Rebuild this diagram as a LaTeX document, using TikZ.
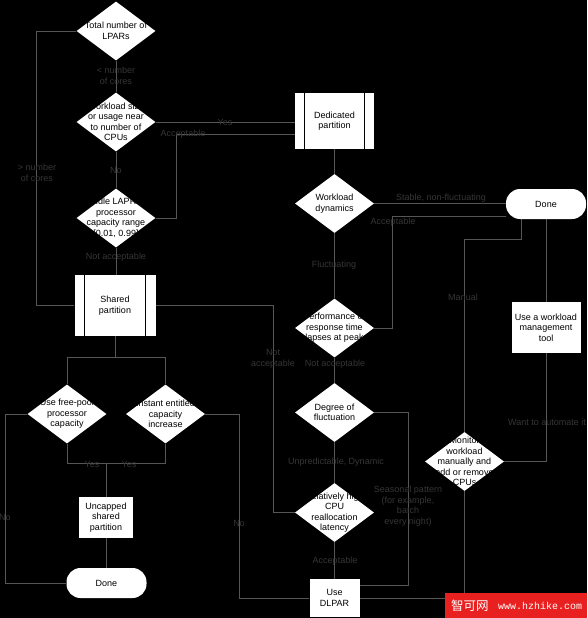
\documentclass[tikz,border=0pt]{standalone}
\usepackage{fontspec}
\setmainfont{Liberation Sans}
\setmonofont{Liberation Mono}
\newfontfamily\cjkfont{Noto Sans CJK SC}
\usetikzlibrary{shapes.geometric,backgrounds,calc}
\definecolor{flowLine}{RGB}{86,86,86}
\definecolor{flowLabel}{RGB}{54,54,54}
\definecolor{markRed}{RGB}{232,32,32}
\tikzset{
  dec/.style={diamond, fill=white, inner sep=0pt, minimum width=79pt, minimum height=59pt},
  dtxt/.style={align=center, text=black, inner sep=0pt},
  proc/.style={rectangle, fill=white, inner sep=0pt, align=center},
  term/.style={rectangle, rounded corners=14pt, fill=white, minimum width=80pt,
    minimum height=30pt, inner sep=0pt},
  plainbox/.style={rectangle, fill=white, align=center, inner sep=0pt},
  lbl/.style={text=flowLabel, align=center, inner sep=0pt},
  flow/.style={draw=flowLine, line width=0.8pt},
}

\begin{document}
\begin{tikzpicture}[x=1pt, y=-1pt, font=\fontsize{9}{10.5}\selectfont]
  \useasboundingbox (0,0) rectangle (587,618);
  \begin{scope}[on background layer]
    \fill[black] (0,0) rectangle (587,618);
  \end{scope}

  % left column
  \node[dec] (tot) at (116,31) {};
  \node[dtxt] (tott) at (tot) {Total number of\\LPARs};
  \node[dec] (wl) at (116,122) {};
  \node[dtxt] (wlt) at (wl) {Workload size\\or usage near\\to number of\\CPUs};
  \node[dec] (idle) at (116,218) {};
  \node[dtxt] (idlet) at (idle) {Idle LAPR\\processor\\capacity range\\{[0.01, 0.99]}};
  \node[proc, minimum width=81pt, minimum height=61pt] (shared) at (115,305.5)
    {Shared\\partition};
  \node[dec] (free) at (67,414) {};
  \node[dtxt] (freet) at (free) {Use free-pool\\processor\\capacity};
  \node[dec] (inst) at (165.5,414) {};
  \node[dtxt] (instt) at (inst) {Instant entitled\\capacity\\increase};
  \node[plainbox, minimum width=54pt, minimum height=41pt] (unc) at (106,517.5)
    {Uncapped\\shared\\partition};
  \node[term] (done2) at (106.5,583) {Done};

  % middle column
  \node[proc, minimum width=79pt, minimum height=56pt] (ded) at (334.5,121)
    {Dedicated\\partition};
  \node[dec] (dyn) at (334.5,203.5) {};
  \node[dtxt] (dynt) at (dyn) {Workload\\dynamics};
  \node[dec] (perf) at (334.5,328) {};
  \node[dtxt] (perft) at (perf) {Performance or\\response time\\lapses at peak};
  \node[dec] (deg) at (334.5,412.5) {};
  \node[dtxt] (degt) at (deg) {Degree of\\fluctuation};
  \node[dec] (rel) at (334.5,512.5) {};
  \node[dtxt] (relt) at (rel) {Relatively high\\CPU\\reallocation\\latency};
  \node[plainbox, minimum width=50pt, minimum height=38pt] (dlpar) at (334.5,598)
    {Use\\DLPAR};

  % right column
  \node[term] (done1) at (546,204) {Done};
  \node[plainbox, minimum width=69pt, minimum height=51pt] (wmt) at (546,327.5)
    {Use a workload\\management\\tool};
  \node[dec] (mon) at (464.5,461.5) {};
  \node[dtxt] (mont) at (mon) {Monitor\\workload\\manually and\\add or remove\\CPUs};

  \foreach \p in {shared,ded} {
    \draw[black, line width=0.8pt] ([xshift=10pt]\p.north west) -- ([xshift=10pt]\p.south west);
    \draw[black, line width=0.8pt] ([xshift=-10pt]\p.north east) -- ([xshift=-10pt]\p.south east);
  }

  % connectors
  \begin{scope}[on background layer]
    \draw[flow] (tot.west) -- ++(-40,0) |- (shared.west);
    \draw[flow] (tot.south) -- (wl.north);
    \draw[flow] (wl.east) -- (wl.east -| ded.west);
    \draw[flow] (wl.south) -- (idle.north);
    \draw[flow] (idle.east) -- (176,218) |- ([yshift=-13pt]ded.west);
    \draw[flow] (idle.south) -- (idle.south |- shared.north);
    \draw[flow] (shared.south) -- ++(0,21) coordinate (split);
    \draw[flow] (split) -| (free.north);
    \draw[flow] (split) -| (inst.north);
    \draw[flow] (free.south) -- ++(0,20) coordinate (merge) -| (inst.south);
    \draw[flow] (unc.north |- merge) -- (unc.north);
    \draw[flow] (unc.south) -- (unc.south |- done2.north);
    \draw[flow] (free.west) -- ++(-22,0) |- (done2.west);
    \draw[flow] (inst.east) -- ++(34,0) |- (dlpar.west);
    \draw[flow] (shared.east) -- (273,305.5) |- (rel.west);
    \draw[flow] (ded.south) -- (dyn.north);
    \draw[flow] (dyn.east) -- (dyn.east -| done1.west);
    \draw[flow] (dyn.south) -- (perf.north);
    \draw[flow] (perf.east) -- ++(18,0) |- ([yshift=-12pt]done1.west);
    \draw[flow] (perf.south) -- (deg.north);
    \draw[flow] (deg.south) -- (rel.north);
    \draw[flow] (deg.east) -- ++(34,0) |- ([yshift=13pt]dlpar.east);
    \draw[flow] (rel.south) -- (dlpar.north);
    \draw[flow] ([xshift=-25pt]done1.south) -- ++(0,20) -| (mon.north);
    \draw[flow] (done1.south) -- (done1.south |- wmt.north);
    \draw[flow] (wmt.south) |- (mon.east);
    \draw[flow] (mon.south) |- (dlpar.east);
  \end{scope}

  % connector labels
  \node[lbl] (lless) at (116,76) {< number\\of cores};
  \node[lbl] (lmore) at (37,173) {> number\\of cores};
  \node[lbl] (lyes) at (225,122) {Yes};
  \node[lbl] (lacc1) at (183,134) {Acceptable};
  \node[lbl] (lno1) at (116,170) {No};
  \node[lbl] (lnacc1) at (116,257) {Not acceptable};
  \node[lbl] (lnacc2) at (273,359) {Not\\acceptable};
  \node[lbl] (lyes2) at (92,464) {Yes};
  \node[lbl] (lyes3) at (129,464) {Yes};
  \node[lbl] (lno2) at (5,517) {No};
  \node[lbl] (lno3) at (239,523) {No};
  \node[lbl] (lstab) at (441,198) {Stable, non-fluctuating};
  \node[lbl] (lacc2) at (393,222) {Acceptable};
  \node[lbl] (lfluc) at (334,265) {Fluctuating};
  \node[lbl] (lnacc3) at (335,364) {Not acceptable};
  \node[lbl] (lunpr) at (336,462) {Unpredictable, Dynamic};
  \node[lbl] (lseas) at (408,506) {Seasonal pattern\\(for example,\\batch\\every night)};
  \node[lbl] (lacc3) at (335,561) {Acceptable};
  \node[lbl] (lman) at (463,297) {Manual};
  \node[lbl] (lauto) at (547,422) {Want to automate it};

  % watermark
  \node[fill=markRed, minimum width=142pt, minimum height=25pt, inner sep=0pt,
    anchor=north west] (mark) at (445,593) {};
  \node[text=white, inner sep=0pt, anchor=west, font=\cjkfont\fontsize{12.5}{13}\selectfont]
    (markcn) at (451,606) {智可网};
  \node[text=white, inner sep=0pt, anchor=west, font=\ttfamily\fontsize{10}{11}\selectfont]
    (markurl) at (498,606) {www.hzhike.com};
\end{tikzpicture}
\end{document}
